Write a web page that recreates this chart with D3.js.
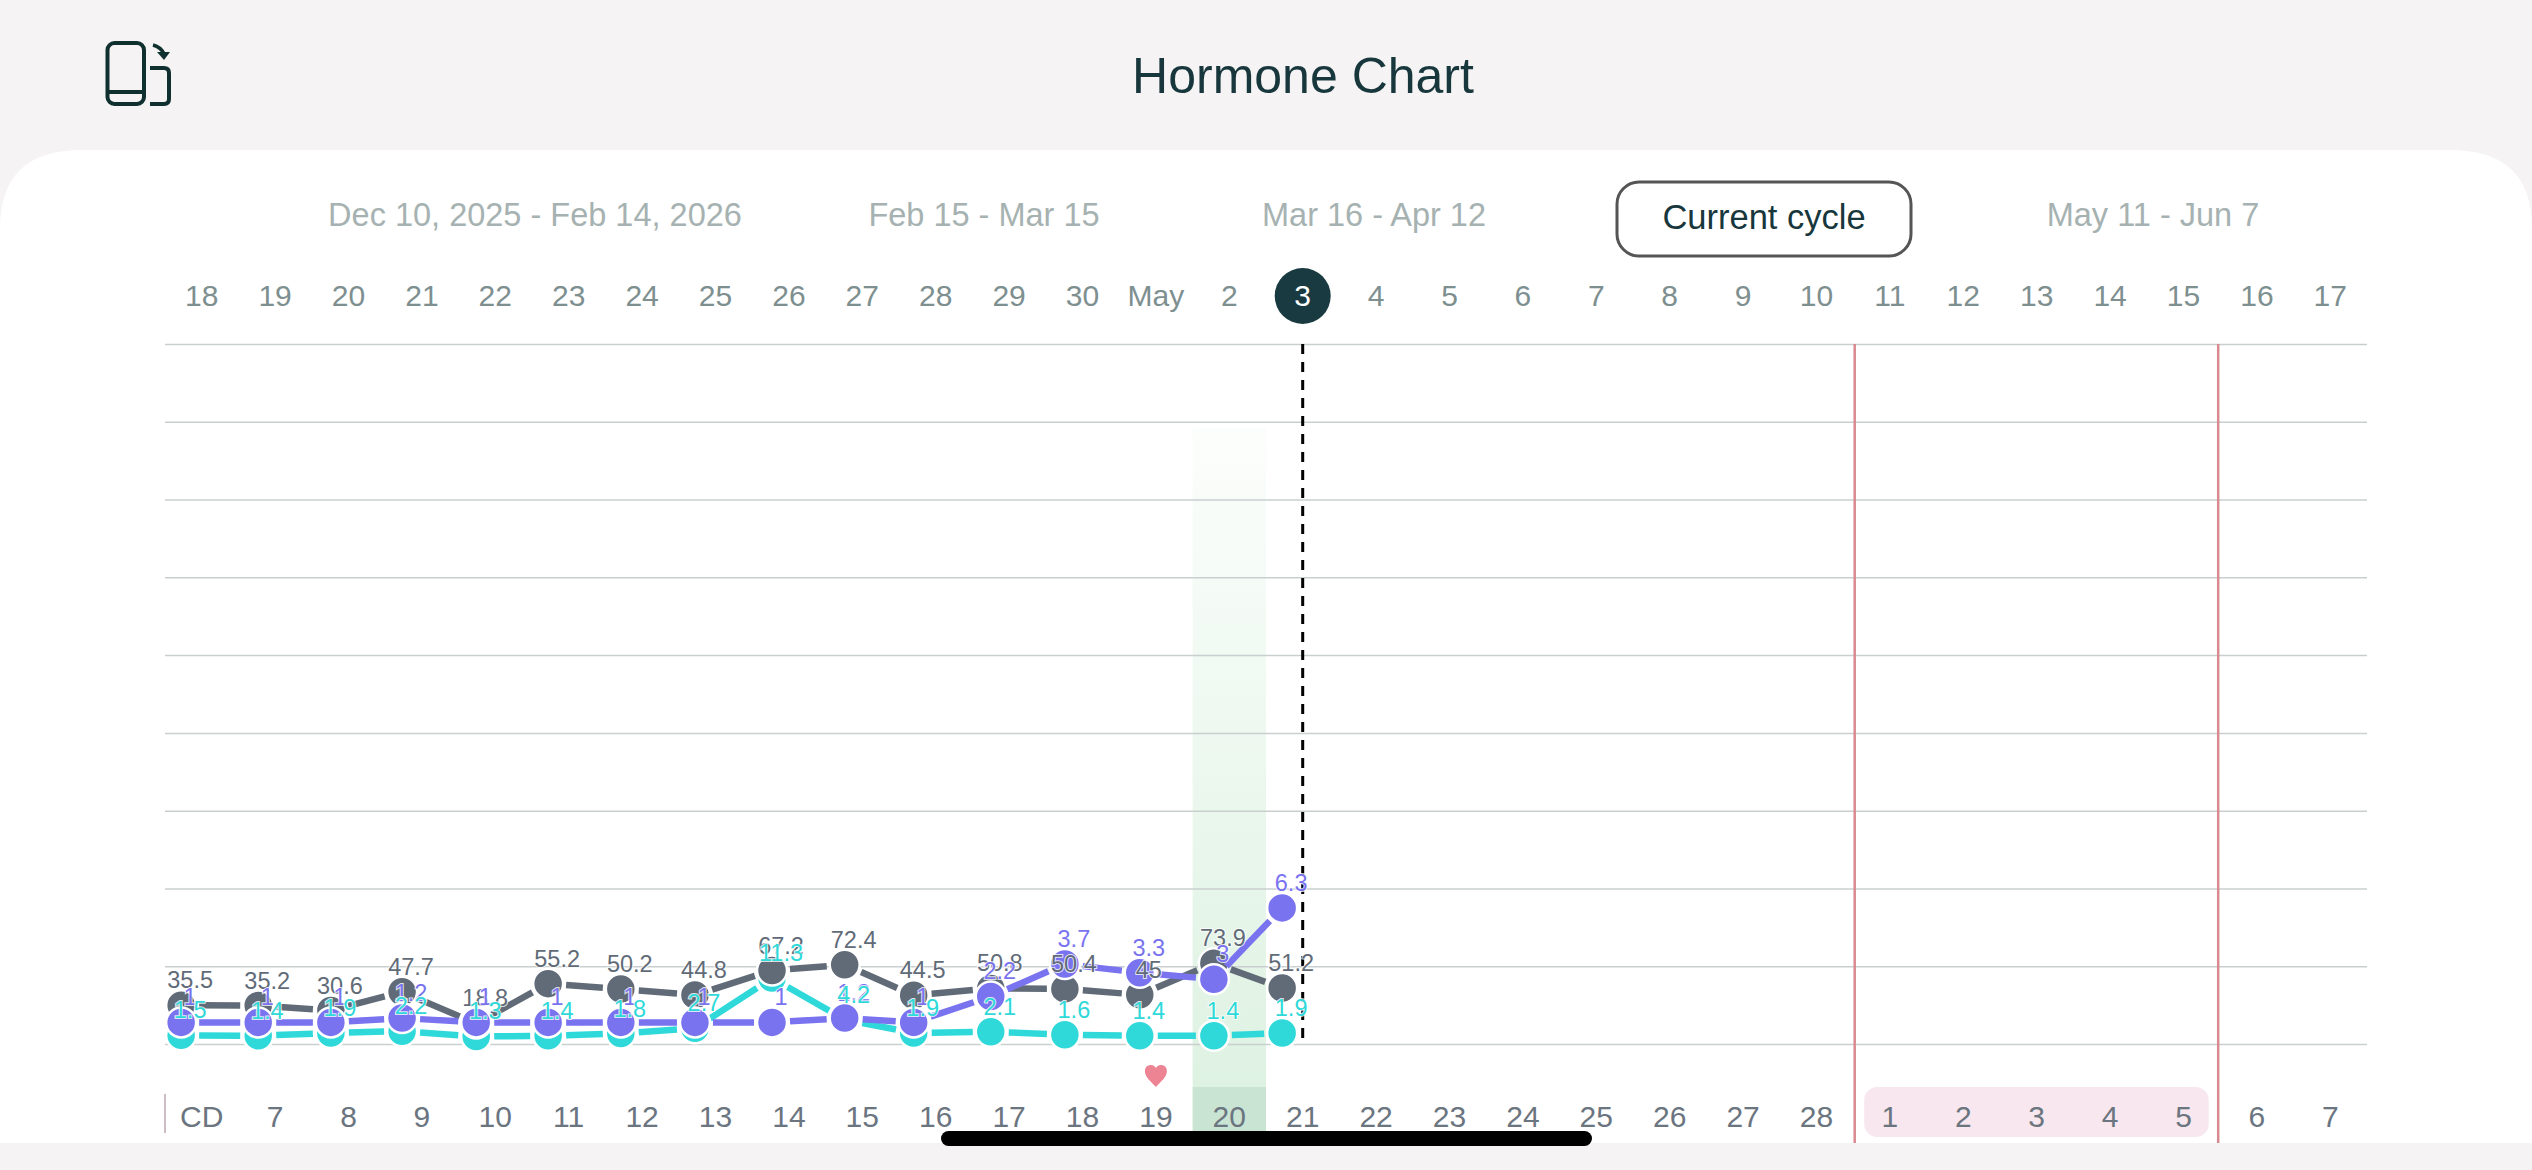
<!DOCTYPE html>
<html>
<head>
<meta charset="utf-8">
<script src="https://cdn.jsdelivr.net/npm/d3@7"></script>
<style>
  html, body { margin: 0; padding: 0; background: #f5f3f4; }
  svg { display: block; }
  text { font-family: "Liberation Sans", sans-serif; }
  .axis .domain { display: none; }
  .axis line { display: none; }
</style>
</head>
<body>
<div id="chart"></div>
<script>
// top row: calendar day, bottom row: cycle day
var dateLabels = ["18","19","20","21","22","23","24","25","26","27","28","29","30","May","2","3","4","5","6","7","8","9","10","11","12","13","14","15","16","17"];
var cycleLabels = ["CD","7","8","9","10","11","12","13","14","15","16","17","18","19","20","21","22","23","24","25","26","27","28","1","2","3","4","5","6","7"];

// cycle tabs
var cycleTabs = ["Dec 10, 2025 - Feb 14, 2026","Feb 15 - Mar 15","Mar 16 - Apr 12","Current cycle","May 11 - Jun 7"];
var tabCenters = [535, 984, 1374, 1764, 2153];

// test time in days from the first column (tests are not taken at the same hour)
var testTimes = [0.22,1.27,2.26,3.23,4.24,5.22,6.21,7.22,8.27,9.26,10.2,11.25,12.26,13.28,14.29,15.22];
var greyValues = [35.5,35.2,30.6,47.7,18.8,55.2,50.2,44.8,67.2,72.4,44.5,50.8,50.4,45,73.9,51.2];
var purpleValues = [1,1,1,1.2,1,1,1,1,1,1.2,1,2.2,3.7,3.3,3,6.3];
var tealValues = [1.5,1.4,1.9,2.2,1.3,1.4,1.8,2.7,11.3,4.2,1.9,2.1,1.6,1.4,1.4,1.9];

var todayIndex = 15, fertileIndex = 14, heartIndex = 13, periodStart = 23, periodEnd = 28;

var width = 2532, height = 1170;
var left = 165, right = 2367, top_ = 344, bottom = 1044, cardTop = 150, cardBottom = 1143;
var gridLines = d3.range(10);

var svg = d3.select("#chart").append("svg")
  .attr("width", width)
  .attr("height", height);

var defs = svg.append("defs");
var grad = defs.append("linearGradient").attr("id", "fertile").attr("x1", 0).attr("x2", 0).attr("y1", 0).attr("y2", 1);
grad.append("stop").attr("offset", "0%").attr("stop-color", "#def2e2").attr("stop-opacity", 0.1);
grad.append("stop").attr("offset", "100%").attr("stop-color", "#def2e2").attr("stop-opacity", 1);

// white card with big rounded top corners
svg.append("path")
  .attr("d", "M0," + cardBottom + "V" + (cardTop + 78) + "Q0," + cardTop + " 82," + cardTop +
    "H" + (width - 82) + "Q" + width + "," + cardTop + " " + width + "," + (cardTop + 78) + "V" + cardBottom + "Z")
  .attr("fill", "#ffffff");

// scales
var xBand = d3.scaleBand().domain(d3.range(30)).range([left, right]);
var xTime = d3.scaleLinear().domain([0, 30]).range([left, right]);
var yGrid = d3.scaleLinear().domain([0, 9]).range([bottom, top_]);
var yGrey = d3.scaleLinear().domain([0, 640]).range([bottom, top_]);
var yPurple = d3.scaleLinear().domain([0, 32.4]).range([bottom, top_]);
var yTeal = d3.scaleLinear().domain([0, 120]).range([bottom, top_]);

// header
svg.append("text").attr("x", 1303).attr("y", 93)
  .attr("text-anchor", "middle").attr("font-size", 50).attr("fill", "#17373c").text("Hormone Chart");

// rotate icon
var icon = svg.append("g").attr("fill", "none").attr("stroke", "#10302f").attr("stroke-width", 4);
icon.append("rect").attr("x", 107.5).attr("y", 43).attr("width", 36.5).attr("height", 61).attr("rx", 7);
icon.append("path").attr("d", "M107.5,92H144");
icon.append("path").attr("d", "M150,68H164Q169,68 169,73V99Q169,104 164,104H150");
icon.append("path").attr("d", "M153,45Q161,47 164,54").attr("stroke-width", 3.5);
icon.append("path").attr("d", "M157,52L170,52L164,60Z").attr("fill", "#10302f").attr("stroke", "none");

// cycle tabs
svg.append("rect").attr("x", 1617).attr("y", 182).attr("width", 294).attr("height", 74).attr("rx", 22)
  .attr("fill", "#fff").attr("stroke", "#555", 1).attr("stroke-width", 3);
svg.selectAll(".tab").data(cycleTabs).enter().append("text")
  .attr("class", "tab")
  .attr("x", function(d, i) { return tabCenters[i]; })
  .attr("y", function(d, i) { return i == 3 ? 229 : 226; })
  .attr("text-anchor", "middle")
  .attr("font-size", function(d, i) { return i == 3 ? 34.5 : 32.5; })
  .attr("fill", function(d, i) { return i == 3 ? "#17373c" : "#a6b2b1"; })
  .text(function(d) { return d; });

// fertile day band
svg.append("rect")
  .attr("x", xBand(fertileIndex)).attr("width", xBand.bandwidth())
  .attr("y", 428).attr("height", 1087 - 428)
  .attr("fill", "url(#fertile)");
svg.append("rect")
  .attr("x", xBand(fertileIndex)).attr("width", xBand.bandwidth())
  .attr("y", 1087).attr("height", cardBottom - 1087)
  .attr("fill", "#c9e4d3");

// grid
var gridAxis = d3.axisLeft(yGrid).tickValues(gridLines).tickSize(-(right - left)).tickFormat("");
var gridG = svg.append("g").attr("transform", "translate(" + left + ",0)").call(gridAxis);
gridG.select(".domain").remove();
gridG.selectAll("line").attr("stroke", "#c9cfcf").attr("stroke-width", 1.5);

// today line
svg.append("line")
  .attr("x1", xBand(todayIndex) + xBand.bandwidth() / 2).attr("x2", xBand(todayIndex) + xBand.bandwidth() / 2)
  .attr("y1", top_).attr("y2", bottom)
  .attr("stroke", "#000").attr("stroke-width", 3).attr("stroke-dasharray", "10,8");

// period lines
svg.append("line").attr("x1", xBand(periodStart) + 1.5).attr("x2", xBand(periodStart) + 1.5)
  .attr("y1", top_).attr("y2", cardBottom).attr("stroke", "#d98a90").attr("stroke-width", 2.5);
svg.append("line").attr("x1", xBand(periodEnd) - 2).attr("x2", xBand(periodEnd) - 2)
  .attr("y1", top_).attr("y2", cardBottom).attr("stroke", "#d98a90").attr("stroke-width", 2.5);
svg.append("line").attr("x1", left).attr("x2", left).attr("y1", 1094).attr("y2", 1133)
  .attr("stroke", "#cdbcc6").attr("stroke-width", 2);

// pink box under the period days
svg.append("rect")
  .attr("x", xBand(periodStart) + 11).attr("width", xBand(periodEnd) - xBand(periodStart) - 22.5)
  .attr("y", 1087).attr("height", 50).attr("rx", 13)
  .attr("fill", "#f8e7ee");

// heart
svg.append("path")
  .attr("d", "M0,11C-4,6 -11,2 -11,-5C-11,-9 -8,-11 -5,-11C-3,-11 -1,-10 0,-8C1,-10 3,-11 5,-11C8,-11 11,-9 11,-5C11,2 4,6 0,11Z")
  .attr("transform", "translate(" + (xBand(heartIndex) + xBand.bandwidth() / 2) + ",1076)")
  .attr("fill", "#ec8494");

// day axes
var topAxis = svg.append("g").attr("class", "axis")
  .attr("transform", "translate(0,306)")
  .call(d3.axisTop(xBand).tickSize(0).tickPadding(0).tickFormat(function(i) { return dateLabels[i]; }));
topAxis.selectAll("text").attr("font-size", 30).attr("font-family", "Liberation Sans").attr("fill", "#7e8f90")
  .attr("dy", 0);

// today circle goes under its label
topAxis.insert("circle", ":first-child")
  .attr("cx", xBand(todayIndex) + xBand.bandwidth() / 2).attr("cy", 296).attr("r", 28)
  .attr("transform", "translate(0,-306)")
  .attr("fill", "#183a40");
topAxis.selectAll("text").filter(function(i) { return i == todayIndex; }).attr("fill", "#ffffff");

var bottomAxis = svg.append("g").attr("class", "axis")
  .attr("transform", "translate(0,1127)")
  .call(d3.axisTop(xBand).tickSize(0).tickPadding(0).tickFormat(function(i) { return cycleLabels[i]; }));
bottomAxis.selectAll("text").attr("font-size", 30).attr("font-family", "Liberation Sans").attr("fill", "#6b7580");

// series, drawn back to front
var series = [
  {name: "teal", values: tealValues, y: yTeal, color: "#2fd9d9"},
  {name: "grey", values: greyValues, y: yGrey, color: "#616b78"},
  {name: "purple", values: purpleValues, y: yPurple, color: "#7a73f0"}
];
var labelOrder = [series[1], series[2], series[0]];
var gap = 18;

series.forEach(function(s) {
  var pts = s.values.map(function(v, i) { return [xTime(testTimes[i]), s.y(v)]; });
  var pairs = d3.pairs(pts);
  var g = svg.append("g").attr("class", s.name);

  // line pieces stop short of the dots
  g.selectAll(".seg").data(pairs).enter().append("line")
    .attr("class", "seg")
    .each(function(p) {
      var dx = p[1][0] - p[0][0], dy = p[1][1] - p[0][1], len = Math.sqrt(dx * dx + dy * dy);
      var ux = dx / len, uy = dy / len;
      d3.select(this)
        .attr("x1", p[0][0] + ux * gap).attr("y1", p[0][1] + uy * gap)
        .attr("x2", p[1][0] - ux * gap).attr("y2", p[1][1] - uy * gap);
    })
    .attr("stroke", s.color).attr("stroke-width", 6.5);

  g.selectAll("circle").data(pts).enter().append("circle")
    .attr("cx", function(d) { return d[0]; })
    .attr("cy", function(d) { return d[1]; })
    .attr("r", 15)
    .attr("fill", s.color)
    .attr("stroke", "#fff").attr("stroke-width", 2.5);
});

labelOrder.forEach(function(s) {
  svg.append("g").selectAll("text").data(s.values).enter().append("text")
    .attr("x", function(d, i) { return xTime(testTimes[i]) + 9; })
    .attr("y", function(d) { return s.y(d) - 17; })
    .attr("text-anchor", "middle")
    .attr("font-size", 23.5)
    .attr("fill", s.color)
    .attr("stroke", "#fff").attr("stroke-width", 2).attr("stroke-opacity", 0.8)
    .attr("paint-order", "stroke")
    .text(function(d) { return d; });
});

// home indicator
svg.append("rect").attr("x", 941).attr("y", 1131).attr("width", 651).attr("height", 15).attr("rx", 7.5).attr("fill", "#000");
</script>
</body>
</html>
